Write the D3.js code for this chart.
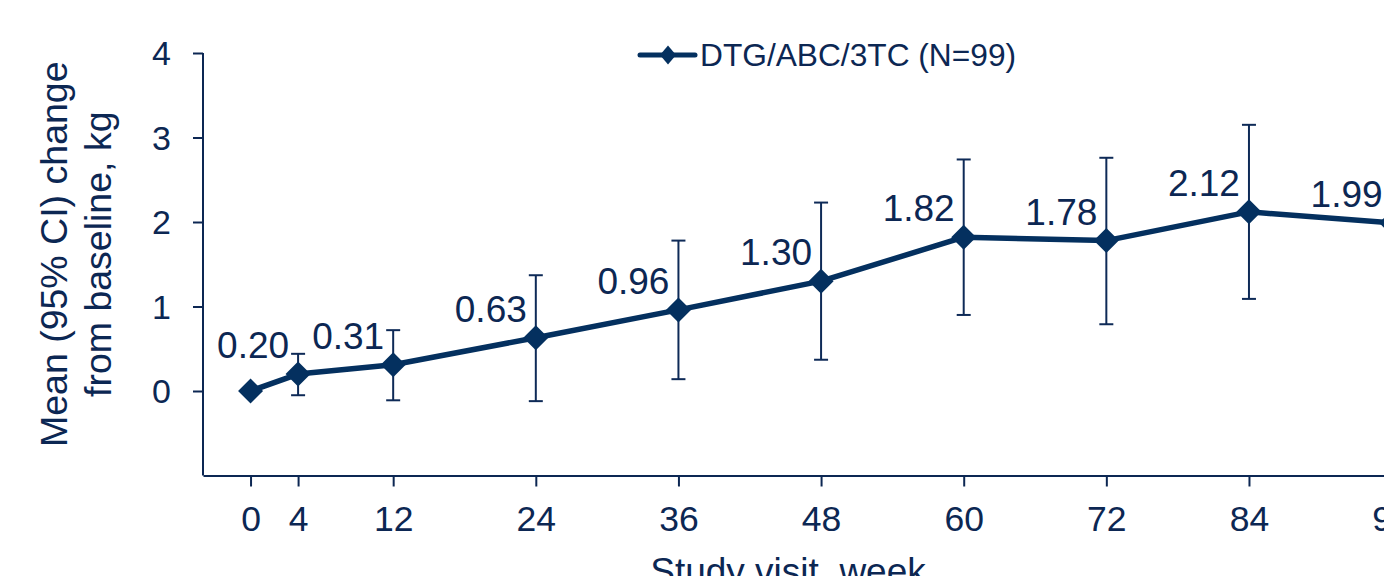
<!DOCTYPE html>
<html>
<head>
<meta charset="utf-8">
<script src="https://cdn.jsdelivr.net/npm/d3@7/dist/d3.min.js"></script>
<style>
  html, body { margin: 0; padding: 0; background: #ffffff; }
  svg { display: block; font-family: "Liberation Sans", Arial, Helvetica, sans-serif; }
</style>
</head>
<body>
<svg id="chart" width="1384" height="576"></svg>
<script>
// Weight change from baseline by study visit (mean with 95% CI)
const weeks      = [0, 4, 12, 24, 36, 48, 60, 72, 84, 96];
const meanChange = [0, 0.20, 0.31, 0.63, 0.96, 1.30, 1.82, 1.78, 2.12, 1.99];
const ciLower    = [null, -0.05, -0.11, -0.12, 0.14, 0.37, 0.90, 0.79, 1.09, 0.85];
const ciUpper    = [null, 0.44, 0.72, 1.37, 1.78, 2.23, 2.74, 2.76, 3.15, 3.16];
const xTickValues = [0, 4, 12, 24, 36, 48, 60, 72, 84, 96];
const yTickValues = [0, 1, 2, 3, 4];
const seriesName = "DTG/ABC/3TC (N=99)";
const xTitle = "Study visit, week";
const yTitleLines = ["Mean (95% CI) change", "from baseline, kg"];

const navy = "#04305f";
const ink = "#0c2753";

const svg = d3.select("#chart");

const x = d3.scaleLinear().domain([-4, 100]).range([203, 203 + 104 * 11.886]);
const y = d3.scaleLinear().domain([-1, 4]).range([475.5, 53]);

const points = weeks.map((w, i) => ({
  week: w, mean: meanChange[i], lo: ciLower[i], hi: ciUpper[i]
}));

// Axes
const yAxis = d3.axisLeft(y).tickValues(yTickValues).tickSize(10).tickSizeOuter(0).tickPadding(22)
  .tickFormat(d3.format("d"));
const gy = svg.append("g").attr("transform", `translate(${x(-4)},0)`).call(yAxis);
gy.select(".domain").attr("stroke", ink).attr("stroke-width", 2)
  .attr("d", `M0,${y(-1)}V${y(4)}`);
gy.selectAll(".tick line").attr("stroke", ink).attr("stroke-width", 2);
gy.selectAll(".tick text").attr("fill", ink).attr("font-size", 34).attr("dy", "0.35em");

const xAxis = d3.axisBottom(x).tickValues(xTickValues).tickSize(11).tickSizeOuter(0).tickPadding(19)
  .tickFormat(d3.format("d"));
const gx = svg.append("g").attr("transform", `translate(0,${y(-1)})`).call(xAxis);
gx.select(".domain").attr("stroke", ink).attr("stroke-width", 2);
gx.selectAll(".tick line").attr("stroke", ink).attr("stroke-width", 2);
gx.selectAll(".tick text").attr("fill", ink).attr("font-size", 35.5);
svg.selectAll(".domain").attr("fill", "none");

// Axis titles
svg.append("text")
  .attr("x", 788)
  .attr("y", 584)
  .attr("text-anchor", "middle")
  .attr("fill", ink)
  .attr("font-size", 37)
  .text(xTitle);

const yTitle = svg.append("text")
  .attr("transform", `translate(67,${(y(-1) + y(4)) / 2 - 10}) rotate(-90)`)
  .attr("text-anchor", "middle")
  .attr("fill", ink)
  .attr("font-size", 37.5);
yTitle.selectAll("tspan").data(yTitleLines).join("tspan")
  .attr("x", 0)
  .attr("dy", (d, i) => i === 0 ? 0 : 44)
  .text(d => d);

// Error bars
const bars = svg.append("g").attr("class", "ci")
  .selectAll("g").data(points.filter(p => p.lo !== null)).join("g")
  .attr("stroke", "#0e2a57").attr("stroke-width", 2).attr("fill", "none");
bars.append("line")
  .attr("x1", d => x(d.week)).attr("x2", d => x(d.week))
  .attr("y1", d => y(d.lo)).attr("y2", d => y(d.hi));
bars.append("line")
  .attr("x1", d => x(d.week) - 7).attr("x2", d => x(d.week) + 7)
  .attr("y1", d => y(d.hi)).attr("y2", d => y(d.hi));
bars.append("line")
  .attr("x1", d => x(d.week) - 7).attr("x2", d => x(d.week) + 7)
  .attr("y1", d => y(d.lo)).attr("y2", d => y(d.lo));

// Mean line
const line = d3.line().x(d => x(d.week)).y(d => y(d.mean));
svg.append("path").datum(points)
  .attr("d", line)
  .attr("fill", "none")
  .attr("stroke", navy)
  .attr("stroke-width", 5.5)
  .attr("stroke-linejoin", "round");

// Diamond markers
const diamond = (cx, cy, hw, hh) => `M${cx},${cy - hh}L${cx + hw},${cy}L${cx},${cy + hh}L${cx - hw},${cy}Z`;
svg.append("g").selectAll("path").data(points).join("path")
  .attr("d", d => diamond(x(d.week), y(d.mean), 12.5, 12.5))
  .attr("fill", navy);

// Value labels
const fmt = d3.format(".2f");
svg.append("g").selectAll("text").data(points.filter(p => p.week > 0)).join("text")
  .attr("x", d => x(d.week) - 9)
  .attr("y", d => y(d.mean) - 16)
  .attr("text-anchor", "end")
  .attr("fill", ink)
  .attr("font-size", 37)
  .text(d => fmt(d.mean));

// Legend
const lg = svg.append("g").attr("transform", "translate(640,55)");
lg.append("line").attr("x1", 0).attr("x2", 55).attr("y1", 0).attr("y2", 0)
  .attr("stroke", navy).attr("stroke-width", 5).attr("stroke-linecap", "round");
lg.append("path").attr("d", diamond(28, 0, 8, 9.5)).attr("fill", navy);
lg.append("text").attr("x", 60).attr("y", 10.5)
  .attr("fill", ink).attr("font-size", 31.7)
  .text(seriesName);
</script>
</body>
</html>
